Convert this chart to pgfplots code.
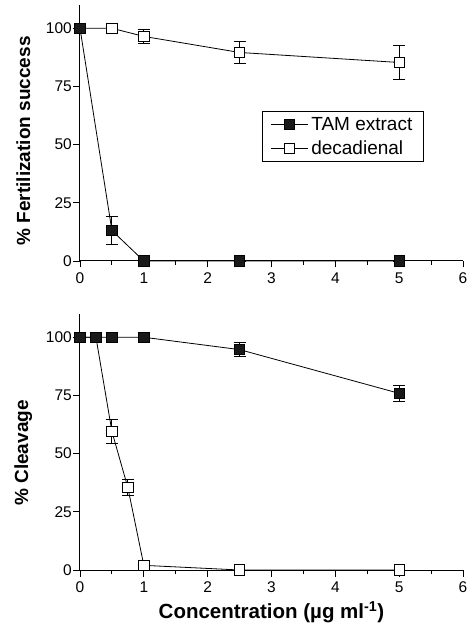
\documentclass[border=0pt]{standalone}
\usepackage{fontspec}
\setmainfont{Liberation Sans}
\usepackage{pgfplots}
\pgfplotsset{compat=1.18}

\pgfplotstableread{
x    y     e
0    100   0
0.5  13.1  6.0
1    0     0
2.5  0     0
5    0     0
}\fertTAM
\pgfplotstableread{
x    y     e
0    100   0
0.5  100   0
1    96.5  3.1
2.5  89.6  4.7
5    85.3  7.5
}\fertDec
\pgfplotstableread{
x    y     e
0    100   0
0.25 100   0
0.5  100   0
1    100   0
2.5  94.7  3.0
5    75.9  3.6
}\cleavTAM
\pgfplotstableread{
x    y     e
0    100   0
0.25 100   0
0.5  59.5  5.2
0.75 35.4  3.5
1    2.0   0
2.5  0     0
5    0     0
}\cleavDec

\pgfplotsset{
  panel/.style={
    scale only axis, width=383pt, height=256pt,
    xmin=0, xmax=6, ymin=0, ymax=110,
    axis x line*=bottom, axis y line*=left,
    axis line style={line width=1pt},
    xtick={0,1,...,6}, minor xtick={0.5,1.5,...,5.5},
    ytick={0,25,50,75,100},
    tick align=outside, major tick length=6.5pt, minor tick length=4pt,
    tick style={line width=0.9pt, black},
    ticklabel style={font=\fontsize{15.5}{15.5}\selectfont},
    yticklabel style={inner xsep=1.5pt},
    xticklabel style={inner ysep=5pt},
    /pgf/number format/assume math mode=true,
    clip=false,
    label style={font=\bfseries\fontsize{19}{19}\selectfont},
  },
  series/.style={
    black, line width=0.8pt,
    mark=square*, mark size=5.2pt,
    error bars/y dir=both, error bars/y explicit,
    error bars/error bar style={line width=0.9pt, black},
    error bars/error mark options={rotate=90, mark size=6pt, line width=0.9pt, black},
  },
  tam/.style={series, mark options={fill=black!90, draw=black, line width=0.8pt, solid}},
  dec/.style={series, mark options={fill=white, draw=black, line width=0.8pt, solid}},
}

\begin{document}
\begin{tikzpicture}
\path[use as bounding box] (0,0) rectangle (470pt,624pt);

% upper panel: fertilization
\begin{axis}[panel, at={(80pt,363pt)}, anchor=south west,
  ylabel={\% Fertilization success},
  ylabel style={at={(axis description cs:-0.148,0.469)}, anchor=center},
  reverse legend,
  legend style={at={(0.4752,0.586)}, anchor=north west, draw=black, line width=1pt,
    inner xsep=8pt, inner ysep=1pt, row sep=0pt,
    nodes={font=\fontsize{19}{19}\selectfont, inner ysep=4.5pt, inner xsep=3pt},
    cells={anchor=west}},
  legend image code/.code={%
    \draw[mark repeat=2, mark phase=2] plot coordinates {(0pt,0pt) (18.5pt,0pt) (37pt,0pt)};},
]
\addplot[dec] table[x=x, y=y, y error=e] {\fertDec};
\addlegendentry{decadienal}
\addplot[tam] table[x=x, y=y, y error=e] {\fertTAM};
\addlegendentry{TAM extract}
\end{axis}

% lower panel: cleavage
\begin{axis}[panel, at={(80pt,54pt)}, anchor=south west,
  ylabel={\% Cleavage},
  ylabel style={at={(axis description cs:-0.148,0.457)}, anchor=center},
  xlabel={Concentration (µg ml\textsuperscript{-1})},
  xlabel style={at={(axis description cs:0.5,-0.165)}, anchor=center,
    font=\bfseries\fontsize{20.5}{20.5}\selectfont},
]
\addplot[dec] table[x=x, y=y, y error=e] {\cleavDec};
\addplot[tam] table[x=x, y=y, y error=e] {\cleavTAM};
\end{axis}
\end{tikzpicture}
\end{document}
